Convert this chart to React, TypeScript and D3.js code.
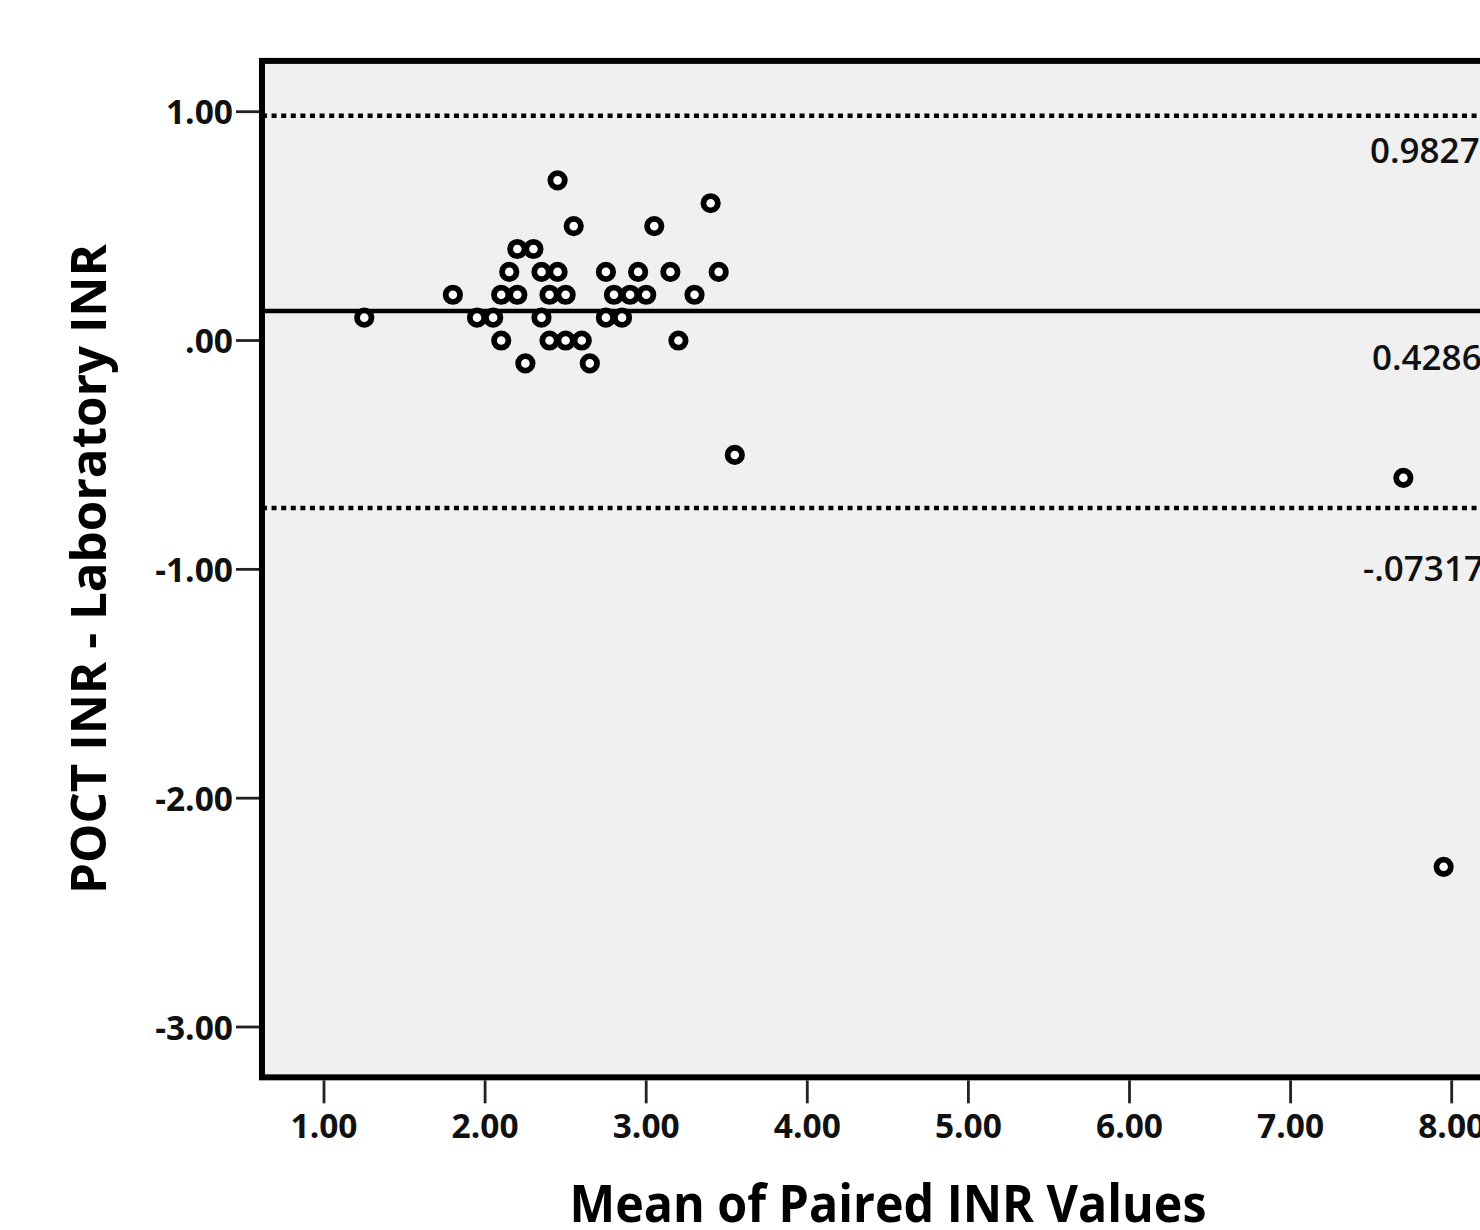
import React from "react";
import * as d3 from "d3";

// ---- data ----
const meanValues: number[] = [
  1.25, 1.8, 1.95, 2.05, 2.1, 2.1, 2.15, 2.2, 2.2, 2.3, 2.25, 2.35, 2.35, 2.4, 2.4,
  2.45, 2.45, 2.5, 2.5, 2.55, 2.6, 2.65, 2.75, 2.75, 2.8, 2.85, 2.9, 2.95, 3.0,
  3.05, 3.15, 3.2, 3.3, 3.4, 3.45, 3.55, 7.7, 7.95,
];
const diffValues: number[] = [
  0.1, 0.2, 0.1, 0.1, 0.2, 0.0, 0.3, 0.2, 0.4, 0.4, -0.1, 0.3, 0.1, 0.2, 0.0,
  0.7, 0.3, 0.2, 0.0, 0.5, 0.0, -0.1, 0.3, 0.1, 0.2, 0.1, 0.2, 0.3, 0.2,
  0.5, 0.3, 0.0, 0.2, 0.6, 0.3, -0.5, -0.6, -2.3,
];
const refLineValues: number[] = [0.9827, 0.1286, -0.7317];
const refLineKinds: string[] = ["dotted", "solid", "dotted"];
const refLabels: string[] = ["0.9827", "0.4286", "-.07317"];
const xTicks: number[] = [1, 2, 3, 4, 5, 6, 7, 8];
const yTicks: number[] = [1, 0, -1, -2, -3];
const xTitle = "Mean of Paired INR Values";
const yTitle = "POCT INR - Laboratory INR";

// ---- layout ----
const W = 1480;
const H = 1230;
const xDomain: [number, number] = [0.615, 8.6];
const yDomain: [number, number] = [-3.22, 1.222];

const xScale = d3.scaleLinear().domain([1, 8]).range([324, 1451.7]);
const yScale = d3.scaleLinear().domain([-3, 1]).range([1027, 111.7]);

const fmtTick = (v: number) => {
  if (v === 0) return ".00";
  return d3.format(".2f")(v).replace("\u2212", "-");
};

const labelLayout = [
  { dx: 1370, dy: 47 },
  { dx: 1372, dy: 58.5 },
  { dx: 1363, dy: 73.5 },
];

const FONT = "'Open Sans', 'DejaVu Sans', sans-serif";

export default function App() {
  const fx0 = xScale(xDomain[0]);
  const fx1 = xScale(xDomain[1]);
  const fy0 = yScale(yDomain[1]);
  const fy1 = yScale(yDomain[0]);
  const points = meanValues.map((m, i) => ({ x: m, y: diffValues[i] }));

  return (
    <svg
      width={W}
      height={H}
      viewBox={`0 0 ${W} ${H}`}
      style={{ position: "absolute", left: 0, top: 0, background: "#ffffff", overflow: "hidden" }}
    >
      <rect x={0} y={0} width={W} height={H} fill="#ffffff" />
      {/* plot background */}
      <rect x={fx0} y={fy0} width={fx1 - fx0} height={fy1 - fy0} fill="#f0f0f0" />

      {/* reference lines */}
      {refLineValues.map((v, i) => (
        <line
          key={"rl" + i}
          x1={fx0}
          x2={fx1}
          y1={yScale(v)}
          y2={yScale(v)}
          stroke="#000"
          strokeWidth={refLineKinds[i] === "solid" ? 4.5 : 4.5}
          strokeDasharray={refLineKinds[i] === "solid" ? undefined : "5 4.6"}
        />
      ))}

      {/* reference labels */}
      {refLabels.map((t, i) => (
        <text
          key={"lab" + i}
          x={labelLayout[i].dx}
          y={yScale(refLineValues[i]) + labelLayout[i].dy}
          fontFamily={FONT}
          fontWeight={600}
          fontSize={35}
          fill="#111"
        >
          {t}
        </text>
      ))}

      {/* points */}
      {points.map((p, i) => (
        <circle
          key={"pt" + i}
          cx={xScale(p.x)}
          cy={yScale(p.y)}
          r={7.2}
          fill="#ffffff"
          stroke="#000"
          strokeWidth={5.8}
        />
      ))}

      {/* frame */}
      <rect
        x={fx0}
        y={fy0}
        width={fx1 - fx0}
        height={fy1 - fy0}
        fill="none"
        stroke="#000"
        strokeWidth={6}
      />

      {/* y ticks */}
      {yTicks.map((v) => (
        <g key={"yt" + v}>
          <line x1={fx0 - 26} x2={fx0 - 3} y1={yScale(v)} y2={yScale(v)} stroke="#222" strokeWidth={2.8} />
          <text
            x={fx0 - 29}
            y={yScale(v) + 12.5}
            textAnchor="end"
            fontFamily={FONT}
            fontWeight={700}
            fontSize={33.5}
            fill="#111"
          >
            {fmtTick(v)}
          </text>
        </g>
      ))}

      {/* x ticks */}
      {xTicks.map((v) => (
        <g key={"xt" + v}>
          <line x1={xScale(v)} x2={xScale(v)} y1={fy1 + 3} y2={fy1 + 26} stroke="#222" strokeWidth={2.8} />
          <text
            x={xScale(v)}
            y={fy1 + 61}
            textAnchor="middle"
            fontFamily={FONT}
            fontWeight={700}
            fontSize={33.5}
            fill="#111"
          >
            {fmtTick(v)}
          </text>
        </g>
      ))}

      {/* axis titles */}
      <text
        x={888}
        y={1222}
        textAnchor="middle"
        fontFamily={FONT}
        fontWeight={700}
        fontSize={52}
        textLength={637}
        lengthAdjust="spacingAndGlyphs"
        fill="#000"
      >
        {xTitle}
      </text>
      <text
        transform={`translate(106, ${yScale(-0.998)}) rotate(-90)`}
        x={0}
        y={0}
        textAnchor="middle"
        fontFamily={FONT}
        fontWeight={700}
        fontSize={49}
        textLength={650}
        lengthAdjust="spacingAndGlyphs"
        fill="#000"
      >
        {yTitle}
      </text>
    </svg>
  );
}
